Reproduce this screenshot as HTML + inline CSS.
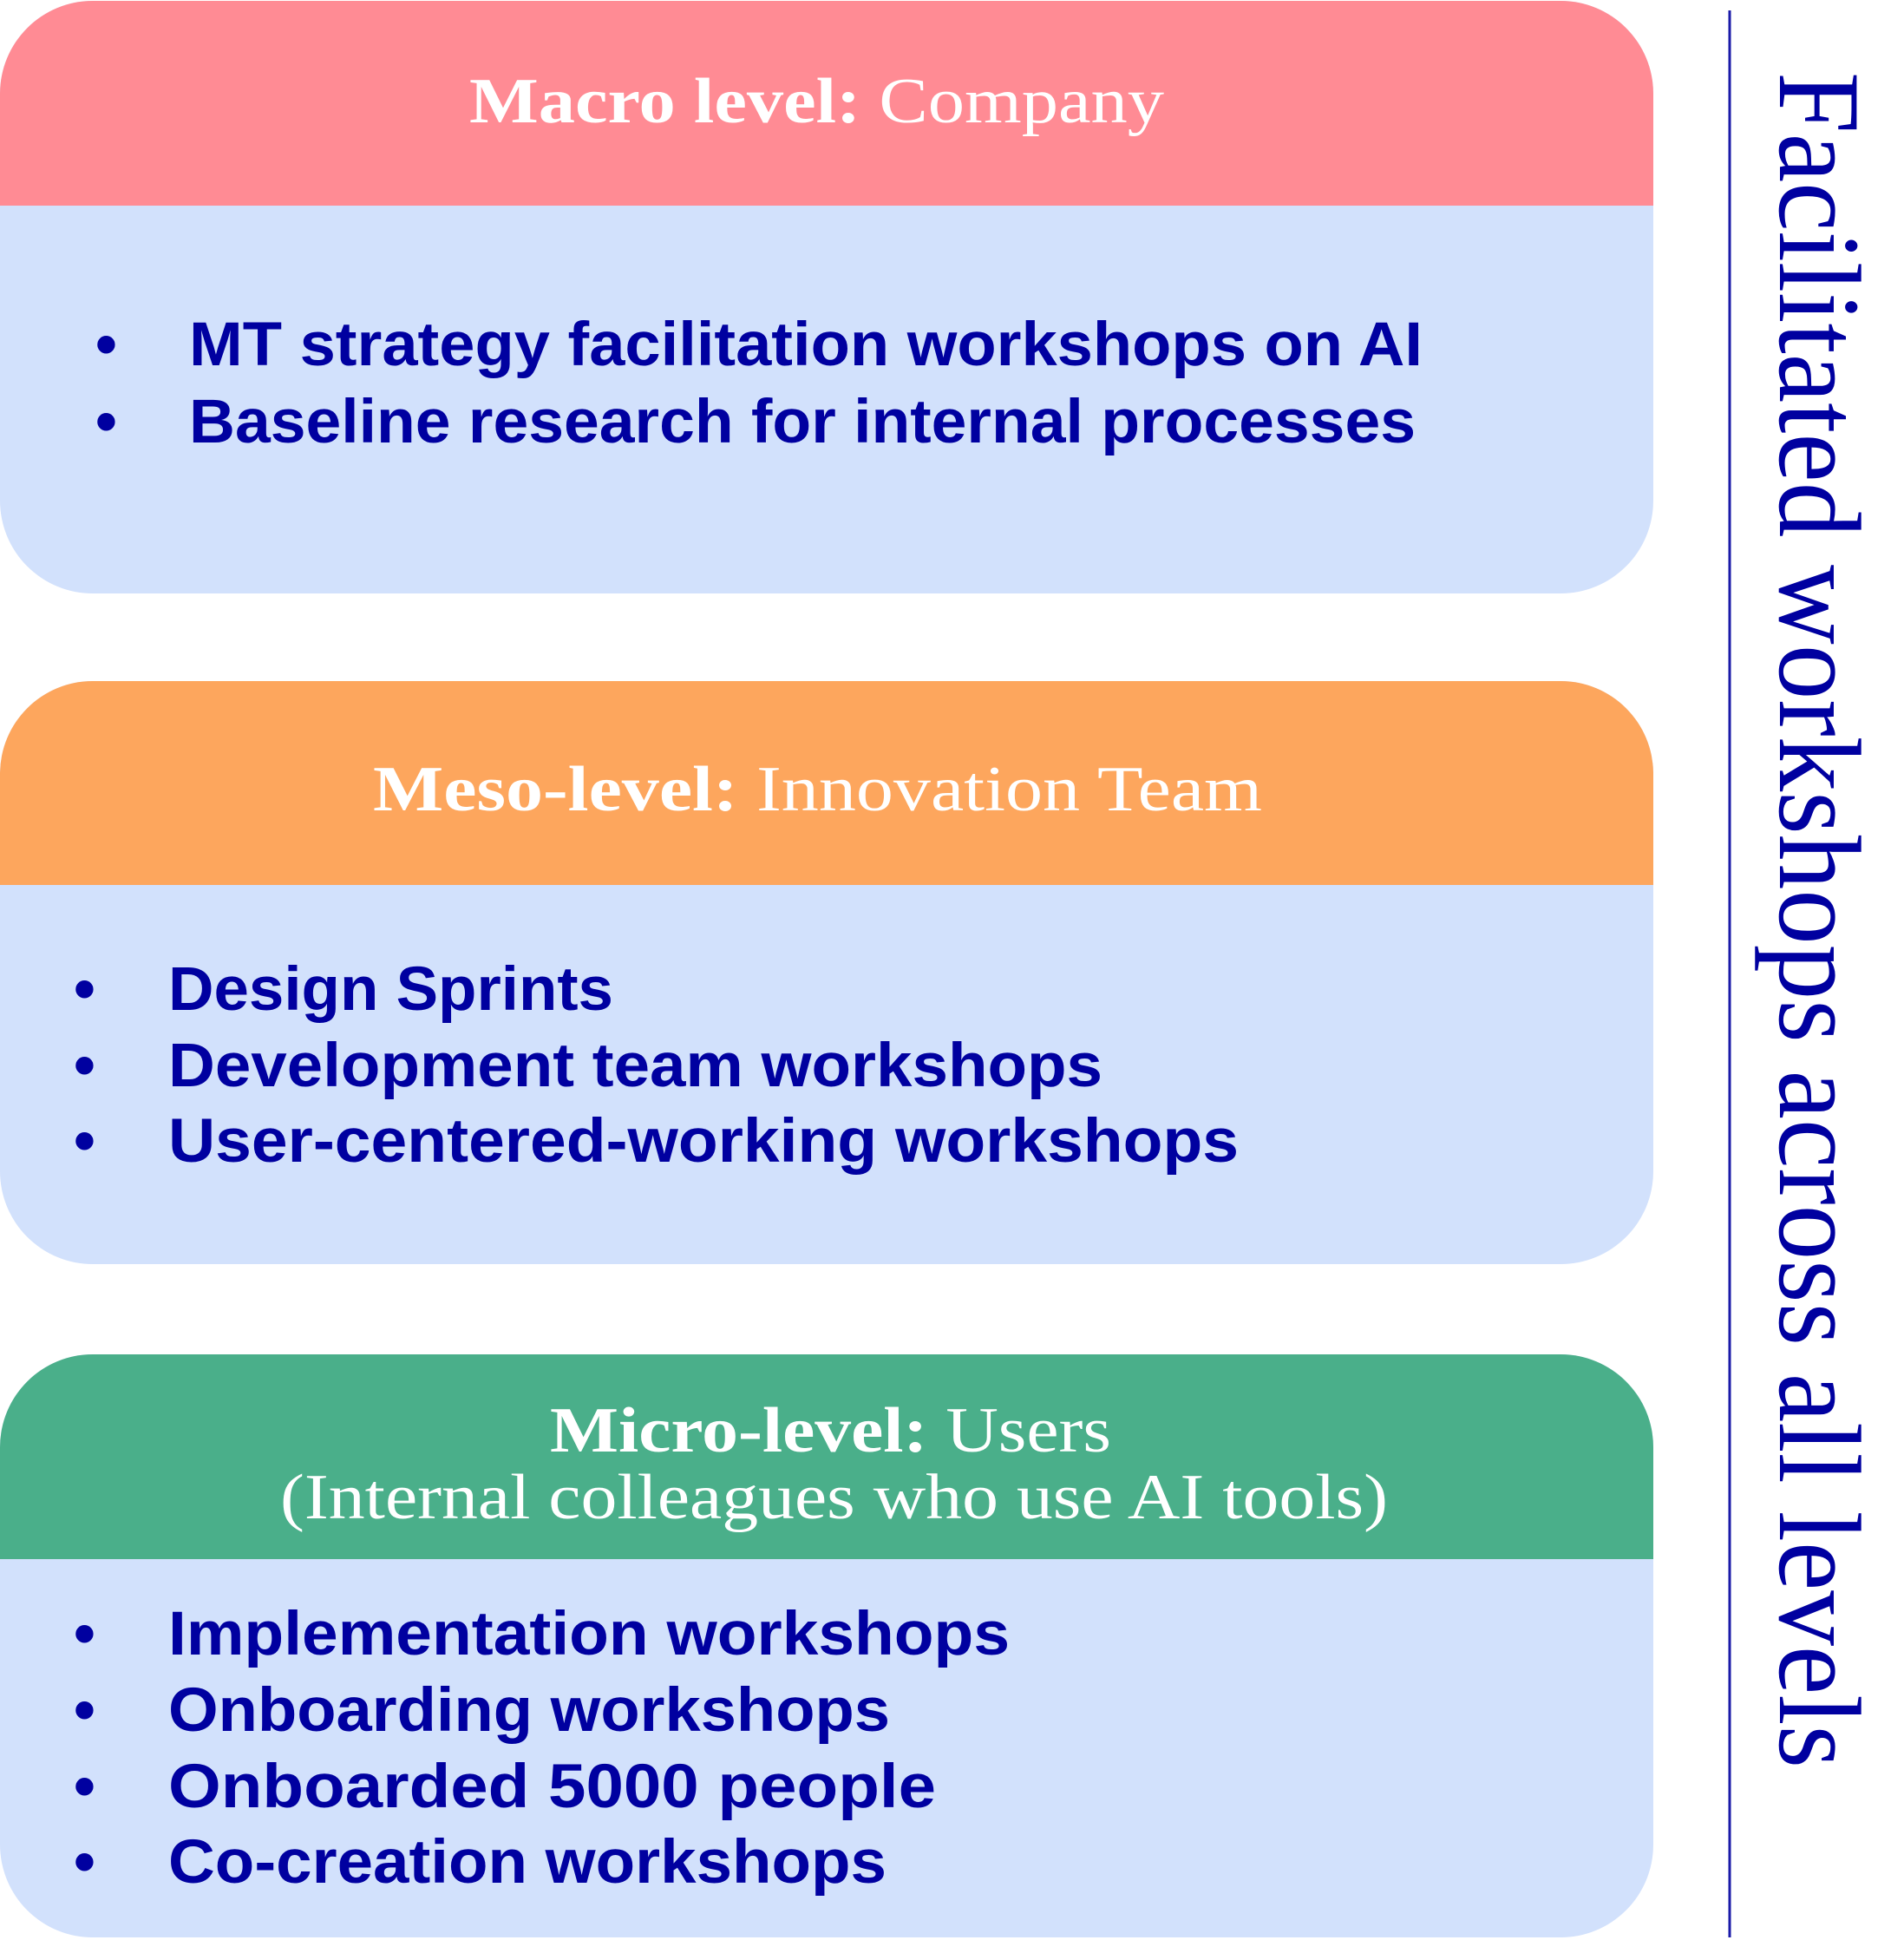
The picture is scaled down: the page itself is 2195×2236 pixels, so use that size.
<!DOCTYPE html>
<html><head><meta charset="utf-8"><style>html,body{margin:0;padding:0;background:#fff}svg{display:block}</style></head>
<body>
<svg width="2195" height="2236" viewBox="0 0 2195 2236" xmlns="http://www.w3.org/2000/svg">
<defs>
<clipPath id="c1"><rect x="0" y="1" width="1906" height="683" rx="107" ry="107"/></clipPath>
<clipPath id="c2"><rect x="0" y="785" width="1906" height="672" rx="107" ry="107"/></clipPath>
<clipPath id="c3"><rect x="0" y="1561" width="1906" height="672" rx="107" ry="107"/></clipPath>
</defs>
<g clip-path="url(#c1)"><rect x="0" y="0" width="1906" height="700" fill="#D2E1FC"/><rect x="0" y="0" width="1906" height="237" fill="#FF8B94"/></g>
<g clip-path="url(#c2)"><rect x="0" y="780" width="1906" height="700" fill="#D2E1FC"/><rect x="0" y="780" width="1906" height="240" fill="#FDA65D"/></g>
<g clip-path="url(#c3)"><rect x="0" y="1555" width="1906" height="700" fill="#D2E1FC"/><rect x="0" y="1555" width="1906" height="242" fill="#4AAF8A"/></g>

<g font-family="'Liberation Serif', serif" font-size="74" fill="#fff">
<text x="541" y="141" textLength="801" lengthAdjust="spacingAndGlyphs"><tspan font-weight="bold">Macro level:</tspan> Company</text>
<text x="430" y="934" textLength="1025" lengthAdjust="spacingAndGlyphs"><tspan font-weight="bold">Meso-level:</tspan> Innovation Team</text>
<text x="634" y="1673" textLength="647" lengthAdjust="spacingAndGlyphs"><tspan font-weight="bold">Micro-level:</tspan> Users</text>
<text x="323" y="1750" textLength="1277" lengthAdjust="spacingAndGlyphs">(Internal colleagues who use AI tools)</text>
</g>

<g font-family="'Liberation Sans', sans-serif" font-weight="bold" font-size="71" fill="#0000A0">
<text x="110" y="421">•</text><text x="218" y="421" textLength="1422" lengthAdjust="spacingAndGlyphs">MT strategy facilitation workshops on AI</text>
<text x="110" y="510">•</text><text x="218" y="510" textLength="1414" lengthAdjust="spacingAndGlyphs">Baseline research for internal processes</text>

<text x="85" y="1164">•</text><text x="194" y="1164" textLength="513" lengthAdjust="spacingAndGlyphs">Design Sprints</text>
<text x="85" y="1252">•</text><text x="194" y="1252" textLength="1077" lengthAdjust="spacingAndGlyphs">Development team workshops</text>
<text x="85" y="1339">•</text><text x="194" y="1339" textLength="1234" lengthAdjust="spacingAndGlyphs">User-centered-working workshops</text>

<text x="85" y="1907">•</text><text x="194" y="1907" textLength="970" lengthAdjust="spacingAndGlyphs">Implementation workshops</text>
<text x="85" y="1995">•</text><text x="194" y="1995" textLength="832" lengthAdjust="spacingAndGlyphs">Onboarding workshops</text>
<text x="85" y="2083">•</text><text x="194" y="2083" textLength="885" lengthAdjust="spacingAndGlyphs">Onboarded 5000 people</text>
<text x="85" y="2170">•</text><text x="194" y="2170" textLength="828" lengthAdjust="spacingAndGlyphs">Co-creation workshops</text>
</g>

<line x1="1994" y1="12" x2="1994" y2="2233" stroke="#1a1aa8" stroke-width="3"/>
<text transform="translate(2052,83) rotate(90)" x="0" y="0" font-family="'Liberation Serif', serif" font-size="135" fill="#0000A0" textLength="1955" lengthAdjust="spacingAndGlyphs">Facilitated workshops across all levels</text>
</svg>
</body></html>
